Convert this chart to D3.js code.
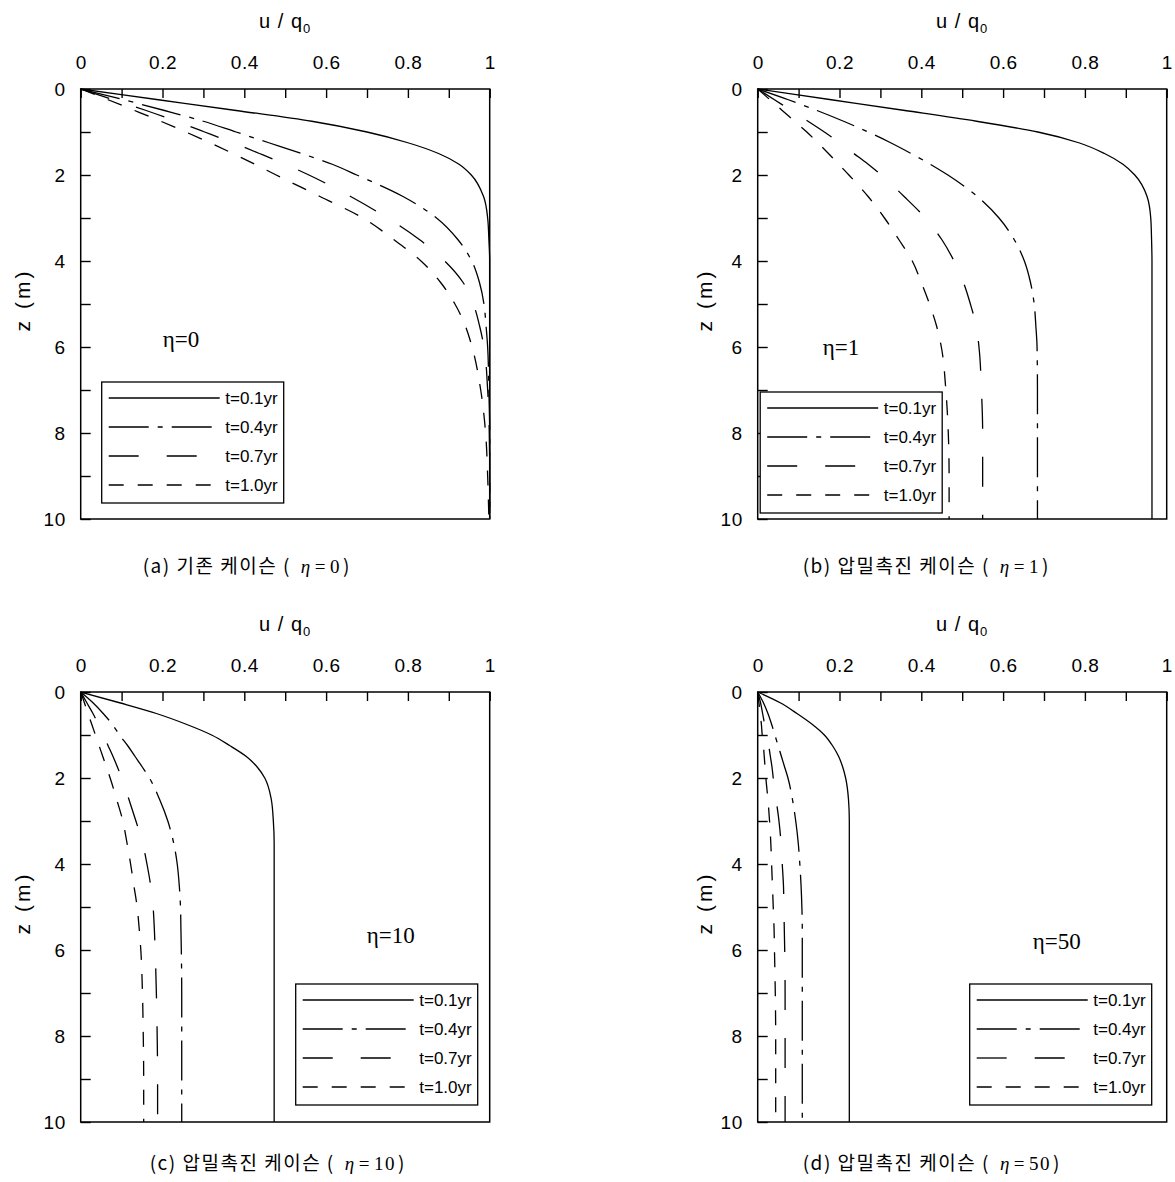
<!DOCTYPE html>
<html>
<head>
<meta charset="utf-8">
<script src="https://cdn.jsdelivr.net/npm/d3@7"></script>
<style>
  body { margin: 0; background: #fff; }
  svg { display: block; }
  .axis path { display: none; }
  .axis line { stroke: #000; stroke-width: 1.4; }
  .axis text { font-family: "Liberation Sans", Arial, sans-serif; font-size: 19px; fill: #000; letter-spacing: 0.5px; }
  .frame { fill: none; stroke: #000; stroke-width: 1.5; }
  .curve { fill: none; stroke: #000; stroke-width: 1.3; }
  .legend-box { fill: #fff; stroke: #000; stroke-width: 1.3; }
  .legend text { font-family: "Liberation Sans Narrow", "Liberation Sans", Arial, sans-serif; font-size: 17px; fill: #000; }
  .title { font-family: "Liberation Sans", Arial, sans-serif; font-size: 20px; fill: #000; }
  .eta { font-family: "Liberation Serif", "Times New Roman", serif; font-size: 23px; fill: #000; }
  .caption { font-family: "Noto Sans CJK KR", sans-serif; font-size: 19px; fill: #000; letter-spacing: 1.5px; }
</style>
</head>
<body>
<svg id="chart" width="1175" height="1182"></svg>
<script>
// Depth (m) at which u/q0 was read.
const depth = [0, 0.25, 0.5, 0.75, 1, 1.25, 1.5, 1.75, 2, 2.5, 3, 3.5, 4, 4.5, 5, 5.5, 6, 7, 8, 9, 10];

const seriesNames = ["t=0.1yr", "t=0.4yr", "t=0.7yr", "t=1.0yr"];

const xTicks = [0, 0.1, 0.2, 0.3, 0.4, 0.5, 0.6, 0.7, 0.8, 0.9, 1];
const xTickLabels = ["0", "", "0.2", "", "0.4", "", "0.6", "", "0.8", "", "1"];
const zTicks = [0, 1, 2, 3, 4, 5, 6, 7, 8, 9, 10];
const zTickLabels = ["0", "", "2", "", "4", "", "6", "", "8", "", "10"];

// eta = 0
const eta0_t01 = [0, 0.19, 0.38, 0.565, 0.70, 0.80, 0.875, 0.925, 0.955, 0.985, 0.995, 0.998, 1, 1, 1, 1, 1, 1, 1, 1, 1];
const eta0_t04 = [0, 0.105, 0.205, 0.30, 0.38, 0.46, 0.54, 0.615, 0.675, 0.788, 0.87, 0.922, 0.956, 0.975, 0.986, 0.991, 0.995, 0.998, 1, 1, 1];
const eta0_t07 = [0, 0.08, 0.16, 0.233, 0.303, 0.372, 0.437, 0.50, 0.558, 0.66, 0.75, 0.828, 0.89, 0.935, 0.96, 0.975, 0.986, 0.995, 0.999, 1, 1];
const eta0_t10 = [0, 0.067, 0.132, 0.196, 0.257, 0.316, 0.372, 0.426, 0.478, 0.585, 0.69, 0.765, 0.832, 0.88, 0.915, 0.94, 0.957, 0.978, 0.99, 0.995, 0.998];

// eta = 1
const eta1_t01 = [0, 0.18, 0.36, 0.535, 0.685, 0.785, 0.848, 0.893, 0.922, 0.952, 0.961, 0.963, 0.964, 0.964, 0.964, 0.964, 0.964, 0.964, 0.964, 0.964, 0.964];
const eta1_t04 = [0, 0.075, 0.145, 0.21, 0.27, 0.325, 0.375, 0.422, 0.465, 0.537, 0.59, 0.627, 0.652, 0.667, 0.676, 0.68, 0.683, 0.684, 0.684, 0.684, 0.684];
const eta1_t07 = [0, 0.041, 0.082, 0.123, 0.163, 0.2, 0.235, 0.27, 0.302, 0.358, 0.41, 0.45, 0.48, 0.503, 0.52, 0.534, 0.541, 0.547, 0.55, 0.55, 0.55];
const eta1_t10 = [0, 0.03, 0.06, 0.09, 0.12, 0.147, 0.173, 0.198, 0.223, 0.27, 0.31, 0.345, 0.378, 0.40, 0.42, 0.437, 0.449, 0.46, 0.466, 0.468, 0.468];

// eta = 10
const eta10_t01 = [0, 0.095, 0.185, 0.258, 0.32, 0.365, 0.405, 0.432, 0.45, 0.466, 0.471, 0.473, 0.473, 0.473, 0.473, 0.473, 0.473, 0.473, 0.473, 0.473, 0.473];
const eta10_t04 = [0, 0.03, 0.055, 0.077, 0.095, 0.115, 0.133, 0.151, 0.168, 0.193, 0.213, 0.227, 0.236, 0.241, 0.244, 0.245, 0.246, 0.247, 0.247, 0.247, 0.247];
const eta10_t07 = [0, 0.015, 0.03, 0.043, 0.055, 0.067, 0.079, 0.09, 0.1, 0.118, 0.135, 0.151, 0.162, 0.171, 0.177, 0.18, 0.182, 0.185, 0.187, 0.188, 0.188];
const eta10_t10 = [0, 0.009, 0.018, 0.027, 0.036, 0.045, 0.054, 0.063, 0.072, 0.088, 0.103, 0.113, 0.122, 0.13, 0.138, 0.143, 0.147, 0.151, 0.153, 0.154, 0.154];

// eta = 50
const eta50_t01 = [0, 0.055, 0.096, 0.133, 0.163, 0.183, 0.198, 0.208, 0.215, 0.222, 0.224, 0.224, 0.224, 0.224, 0.224, 0.224, 0.224, 0.224, 0.224, 0.224, 0.224];
const eta50_t04 = [0, 0.014, 0.025, 0.034, 0.042, 0.05, 0.058, 0.066, 0.074, 0.085, 0.093, 0.099, 0.103, 0.106, 0.108, 0.109, 0.109, 0.109, 0.109, 0.109, 0.109];
const eta50_t07 = [0, 0.007, 0.012, 0.017, 0.022, 0.027, 0.031, 0.035, 0.038, 0.045, 0.052, 0.057, 0.06, 0.063, 0.064, 0.065, 0.066, 0.067, 0.067, 0.067, 0.067];
const eta50_t10 = [0, 0.003, 0.006, 0.009, 0.011, 0.014, 0.016, 0.018, 0.02, 0.025, 0.029, 0.032, 0.034, 0.036, 0.038, 0.04, 0.041, 0.043, 0.044, 0.044, 0.044];

// line styles per series
const dashes = [null, "40,9,5,9", "30,28", "15,14"];

// panel layout
const W = 409, H = 430;
const panels = [
  { left: 80.7, top: 89, eta: "0", values: [eta0_t01, eta0_t04, eta0_t07, eta0_t10],
    legend: [21, 293], etaPos: [82, 258], zLabelX: -58,
    caption: ["(a) 기존 케이슨 (", 62, 484] },
  { left: 757.7, top: 89, eta: "1", values: [eta1_t01, eta1_t04, eta1_t07, eta1_t10],
    legend: [2.5, 303], etaPos: [65, 266], zLabelX: -53,
    caption: ["(b) 압밀촉진 케이슨 (", 45, 484] },
  { left: 80.7, top: 692, eta: "10", values: [eta10_t01, eta10_t04, eta10_t07, eta10_t10],
    legend: [215, 292], etaPos: [286, 251], zLabelX: -58,
    caption: ["(c) 압밀촉진 케이슨 (", 69, 478] },
  { left: 757.7, top: 692, eta: "50", values: [eta50_t01, eta50_t04, eta50_t07, eta50_t10],
    legend: [212, 292], etaPos: [275, 257], zLabelX: -53,
    caption: ["(d) 압밀촉진 케이슨 (", 45, 478] },
];

const x = d3.scaleLinear().domain([0, 1]).range([0, W]);
const y = d3.scaleLinear().domain([0, 10]).range([0, H]);

const svg = d3.select("#chart");

panels.forEach((p) => {
  const g = svg.append("g").attr("transform", `translate(${p.left}, ${p.top})`);

  // Axes: ticks point inward.
  const xAxis = d3.axisTop(x)
    .tickValues(xTicks)
    .tickSize(-9)
    .tickPadding(20)
    .tickFormat((d, i) => xTickLabels[i]);
  g.append("g").attr("class", "axis").call(xAxis);

  const yAxis = d3.axisLeft(y)
    .tickValues(zTicks)
    .tickSize(-10)
    .tickPadding(15)
    .tickFormat((d, i) => zTickLabels[i]);
  g.append("g").attr("class", "axis").call(yAxis);

  g.append("rect").attr("class", "frame").attr("width", W).attr("height", H);

  // Titles.
  const t = g.append("text")
    .attr("class", "title")
    .attr("x", W / 2)
    .attr("y", -61)
    .attr("text-anchor", "middle")
    .style("letter-spacing", "1px");
  t.append("tspan").text("u / q");
  t.append("tspan").attr("font-size", 13).attr("dy", 5).text("0");

  g.append("text")
    .attr("class", "title")
    .attr("transform", `translate(${p.zLabelX}, ${H / 2 - 4}) rotate(-90)`)
    .attr("text-anchor", "middle")
    .attr("dy", "0.35em")
    .style("font-size", "21px")
    .style("letter-spacing", "3px")
    .text("z (m)");

  // Curves.
  p.values.forEach((vals, i) => {
    const line = d3.line()
      .x((d, j) => x(vals[j]))
      .y((d) => y(d))
      .curve(d3.curveMonotoneY);
    g.append("path")
      .attr("class", "curve")
      .attr("d", line(depth))
      .attr("stroke-dasharray", dashes[i]);
  });

  // eta label.
  g.append("text")
    .attr("class", "eta")
    .attr("x", p.etaPos[0])
    .attr("y", p.etaPos[1])
    .text("η=" + p.eta);

  // Legend.
  const lg = g.append("g").attr("class", "legend")
    .attr("transform", `translate(${p.legend[0]}, ${p.legend[1]})`);
  lg.append("rect").attr("class", "legend-box").attr("width", 182).attr("height", 121);
  seriesNames.forEach((name, i) => {
    const ry = 16 + i * 29;
    lg.append("line")
      .attr("class", "curve")
      .attr("x1", 7).attr("x2", 118)
      .attr("y1", ry).attr("y2", ry)
      .attr("stroke-dasharray", dashes[i]);
    lg.append("text")
      .attr("x", 176).attr("y", ry)
      .attr("dy", "0.35em")
      .attr("text-anchor", "end")
      .text(name);
  });

  // Caption.
  const c = g.append("text")
    .attr("class", "caption")
    .attr("x", p.caption[1])
    .attr("y", p.caption[2]);
  c.append("tspan").text(p.caption[0]);
  c.append("tspan").attr("dx", 10)
    .style("font-family", "'Liberation Serif', serif").style("font-style", "italic")
    .text("η");
  c.append("tspan").attr("dx", 3)
    .style("font-family", "'Liberation Serif', serif").text("=");
  c.append("tspan").attr("dx", 3)
    .style("font-family", "'Liberation Serif', serif").text(p.eta);
  c.append("tspan").attr("dx", 2).text(")");
});
</script>
</body>
</html>
